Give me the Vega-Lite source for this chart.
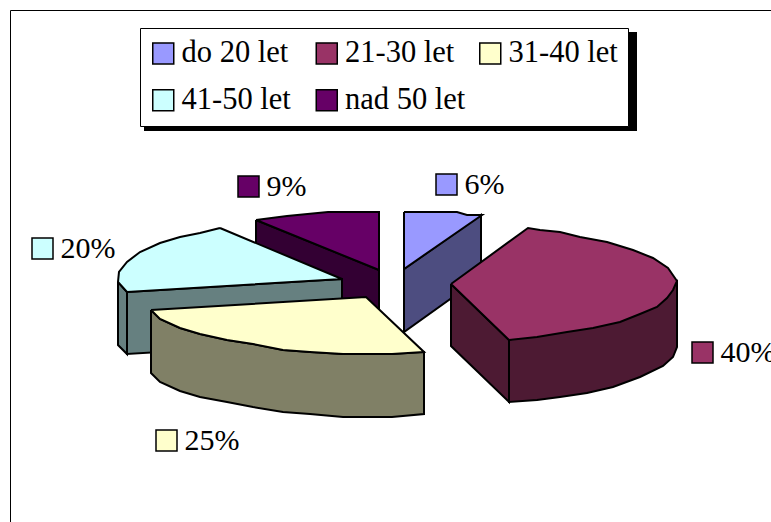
{
  "$schema": "https://vega.github.io/schema/vega-lite/v6.json",
  "width": 771,
  "height": 522,
  "padding": 0,
  "autosize": "none",
  "background": "white",
  "view": {"stroke": null},
  "datasets": {
    "frame": [
      {"x": 10.5, "y": 10.5, "x2": 771, "y2": 10.5},
      {"x": 10.5, "y": 10.5, "x2": 10.5, "y2": 522}
    ],
    "shadow": [{"x": 144, "y": 32, "x2": 637, "y2": 131}],
    "faces": [
      {"part": "a1", "face": "nad 50 let side", "i": 0, "x": 256, "y": 220},
      {"part": "a1", "face": "nad 50 let side", "i": 1, "x": 379, "y": 270},
      {"part": "a1", "face": "nad 50 let side", "i": 2, "x": 379, "y": 332},
      {"part": "a1", "face": "nad 50 let side", "i": 3, "x": 256, "y": 282},
      {"part": "a1", "face": "nad 50 let side", "i": 4, "x": 256, "y": 220},
      {"part": "a2", "face": "nad 50 let", "i": 0, "x": 256, "y": 220},
      {"part": "a2", "face": "nad 50 let", "i": 1, "x": 287, "y": 216},
      {"part": "a2", "face": "nad 50 let", "i": 2, "x": 328, "y": 212},
      {"part": "a2", "face": "nad 50 let", "i": 3, "x": 379, "y": 212},
      {"part": "a2", "face": "nad 50 let", "i": 4, "x": 379, "y": 270},
      {"part": "a2", "face": "nad 50 let", "i": 5, "x": 256, "y": 220},

      {"part": "b1", "face": "do 20 let side", "i": 0, "x": 404, "y": 269},
      {"part": "b1", "face": "do 20 let side", "i": 1, "x": 481, "y": 215},
      {"part": "b1", "face": "do 20 let side", "i": 2, "x": 481, "y": 277},
      {"part": "b1", "face": "do 20 let side", "i": 3, "x": 404, "y": 332},
      {"part": "b1", "face": "do 20 let side", "i": 4, "x": 404, "y": 269},
      {"part": "b2", "face": "do 20 let", "i": 0, "x": 404, "y": 212},
      {"part": "b2", "face": "do 20 let", "i": 1, "x": 457, "y": 212},
      {"part": "b2", "face": "do 20 let", "i": 2, "x": 467, "y": 215},
      {"part": "b2", "face": "do 20 let", "i": 3, "x": 482, "y": 215},
      {"part": "b2", "face": "do 20 let", "i": 4, "x": 404, "y": 269},
      {"part": "b2", "face": "do 20 let", "i": 5, "x": 404, "y": 212},

      {"part": "c1", "face": "21-30 let side", "i": 0, "x": 451, "y": 284},
      {"part": "c1", "face": "21-30 let side", "i": 1, "x": 509, "y": 340},
      {"part": "c1", "face": "21-30 let side", "i": 2, "x": 509, "y": 402},
      {"part": "c1", "face": "21-30 let side", "i": 3, "x": 451, "y": 346},
      {"part": "c1", "face": "21-30 let side", "i": 4, "x": 451, "y": 284},
      {"part": "c2", "face": "21-30 let side", "i": 0, "x": 509, "y": 340},
      {"part": "c2", "face": "21-30 let side", "i": 1, "x": 677, "y": 281},
      {"part": "c2", "face": "21-30 let side", "i": 2, "x": 677, "y": 347},
      {"part": "c2", "face": "21-30 let side", "i": 3, "x": 673, "y": 357},
      {"part": "c2", "face": "21-30 let side", "i": 4, "x": 663, "y": 366},
      {"part": "c2", "face": "21-30 let side", "i": 5, "x": 640, "y": 377},
      {"part": "c2", "face": "21-30 let side", "i": 6, "x": 613, "y": 387},
      {"part": "c2", "face": "21-30 let side", "i": 7, "x": 587, "y": 393},
      {"part": "c2", "face": "21-30 let side", "i": 8, "x": 560, "y": 397},
      {"part": "c2", "face": "21-30 let side", "i": 9, "x": 537, "y": 400},
      {"part": "c2", "face": "21-30 let side", "i": 10, "x": 509, "y": 402},
      {"part": "c2", "face": "21-30 let side", "i": 11, "x": 509, "y": 340},
      {"part": "c3", "face": "21-30 let", "i": 0, "x": 451, "y": 284},
      {"part": "c3", "face": "21-30 let", "i": 1, "x": 528, "y": 228},
      {"part": "c3", "face": "21-30 let", "i": 2, "x": 540, "y": 230},
      {"part": "c3", "face": "21-30 let", "i": 3, "x": 560, "y": 232},
      {"part": "c3", "face": "21-30 let", "i": 4, "x": 580, "y": 237},
      {"part": "c3", "face": "21-30 let", "i": 5, "x": 607, "y": 242},
      {"part": "c3", "face": "21-30 let", "i": 6, "x": 633, "y": 250},
      {"part": "c3", "face": "21-30 let", "i": 7, "x": 653, "y": 258},
      {"part": "c3", "face": "21-30 let", "i": 8, "x": 668, "y": 268},
      {"part": "c3", "face": "21-30 let", "i": 9, "x": 677, "y": 281},
      {"part": "c3", "face": "21-30 let", "i": 10, "x": 673, "y": 290},
      {"part": "c3", "face": "21-30 let", "i": 11, "x": 667, "y": 298},
      {"part": "c3", "face": "21-30 let", "i": 12, "x": 657, "y": 307},
      {"part": "c3", "face": "21-30 let", "i": 13, "x": 640, "y": 314},
      {"part": "c3", "face": "21-30 let", "i": 14, "x": 620, "y": 322},
      {"part": "c3", "face": "21-30 let", "i": 15, "x": 593, "y": 328},
      {"part": "c3", "face": "21-30 let", "i": 16, "x": 567, "y": 332},
      {"part": "c3", "face": "21-30 let", "i": 17, "x": 537, "y": 337},
      {"part": "c3", "face": "21-30 let", "i": 18, "x": 509, "y": 340},
      {"part": "c3", "face": "21-30 let", "i": 19, "x": 451, "y": 284},

      {"part": "d1", "face": "41-50 let side", "i": 0, "x": 118, "y": 282},
      {"part": "d1", "face": "41-50 let side", "i": 1, "x": 127, "y": 292},
      {"part": "d1", "face": "41-50 let side", "i": 2, "x": 127, "y": 354},
      {"part": "d1", "face": "41-50 let side", "i": 3, "x": 118, "y": 345},
      {"part": "d1", "face": "41-50 let side", "i": 4, "x": 118, "y": 282},
      {"part": "d2", "face": "41-50 let side", "i": 0, "x": 127, "y": 292},
      {"part": "d2", "face": "41-50 let side", "i": 1, "x": 342, "y": 279},
      {"part": "d2", "face": "41-50 let side", "i": 2, "x": 342, "y": 341},
      {"part": "d2", "face": "41-50 let side", "i": 3, "x": 127, "y": 354},
      {"part": "d2", "face": "41-50 let side", "i": 4, "x": 127, "y": 292},
      {"part": "d3", "face": "41-50 let", "i": 0, "x": 220, "y": 228},
      {"part": "d3", "face": "41-50 let", "i": 1, "x": 200, "y": 233},
      {"part": "d3", "face": "41-50 let", "i": 2, "x": 180, "y": 237},
      {"part": "d3", "face": "41-50 let", "i": 3, "x": 160, "y": 243},
      {"part": "d3", "face": "41-50 let", "i": 4, "x": 140, "y": 252},
      {"part": "d3", "face": "41-50 let", "i": 5, "x": 127, "y": 262},
      {"part": "d3", "face": "41-50 let", "i": 6, "x": 119, "y": 272},
      {"part": "d3", "face": "41-50 let", "i": 7, "x": 118, "y": 282},
      {"part": "d3", "face": "41-50 let", "i": 8, "x": 127, "y": 292},
      {"part": "d3", "face": "41-50 let", "i": 9, "x": 342, "y": 279},
      {"part": "d3", "face": "41-50 let", "i": 10, "x": 220, "y": 228},

      {"part": "e1", "face": "31-40 let side", "i": 0, "x": 151, "y": 310},
      {"part": "e1", "face": "31-40 let side", "i": 1, "x": 160, "y": 319},
      {"part": "e1", "face": "31-40 let side", "i": 2, "x": 180, "y": 328},
      {"part": "e1", "face": "31-40 let side", "i": 3, "x": 200, "y": 334},
      {"part": "e1", "face": "31-40 let side", "i": 4, "x": 227, "y": 340},
      {"part": "e1", "face": "31-40 let side", "i": 5, "x": 253, "y": 344},
      {"part": "e1", "face": "31-40 let side", "i": 6, "x": 283, "y": 350},
      {"part": "e1", "face": "31-40 let side", "i": 7, "x": 310, "y": 352},
      {"part": "e1", "face": "31-40 let side", "i": 8, "x": 343, "y": 354},
      {"part": "e1", "face": "31-40 let side", "i": 9, "x": 392, "y": 354},
      {"part": "e1", "face": "31-40 let side", "i": 10, "x": 424, "y": 352},
      {"part": "e1", "face": "31-40 let side", "i": 11, "x": 424, "y": 414},
      {"part": "e1", "face": "31-40 let side", "i": 12, "x": 392, "y": 417},
      {"part": "e1", "face": "31-40 let side", "i": 13, "x": 343, "y": 417},
      {"part": "e1", "face": "31-40 let side", "i": 14, "x": 310, "y": 414},
      {"part": "e1", "face": "31-40 let side", "i": 15, "x": 283, "y": 412},
      {"part": "e1", "face": "31-40 let side", "i": 16, "x": 253, "y": 407},
      {"part": "e1", "face": "31-40 let side", "i": 17, "x": 227, "y": 402},
      {"part": "e1", "face": "31-40 let side", "i": 18, "x": 200, "y": 397},
      {"part": "e1", "face": "31-40 let side", "i": 19, "x": 180, "y": 391},
      {"part": "e1", "face": "31-40 let side", "i": 20, "x": 160, "y": 382},
      {"part": "e1", "face": "31-40 let side", "i": 21, "x": 151, "y": 373},
      {"part": "e1", "face": "31-40 let side", "i": 22, "x": 151, "y": 310},
      {"part": "e2", "face": "31-40 let", "i": 0, "x": 151, "y": 310},
      {"part": "e2", "face": "31-40 let", "i": 1, "x": 366, "y": 297},
      {"part": "e2", "face": "31-40 let", "i": 2, "x": 424, "y": 352},
      {"part": "e2", "face": "31-40 let", "i": 3, "x": 392, "y": 354},
      {"part": "e2", "face": "31-40 let", "i": 4, "x": 343, "y": 354},
      {"part": "e2", "face": "31-40 let", "i": 5, "x": 310, "y": 352},
      {"part": "e2", "face": "31-40 let", "i": 6, "x": 283, "y": 350},
      {"part": "e2", "face": "31-40 let", "i": 7, "x": 253, "y": 344},
      {"part": "e2", "face": "31-40 let", "i": 8, "x": 227, "y": 340},
      {"part": "e2", "face": "31-40 let", "i": 9, "x": 200, "y": 334},
      {"part": "e2", "face": "31-40 let", "i": 10, "x": 180, "y": 328},
      {"part": "e2", "face": "31-40 let", "i": 11, "x": 160, "y": 319},
      {"part": "e2", "face": "31-40 let", "i": 12, "x": 151, "y": 310}
    ],
    "shares": [
      {"face": "do 20 let", "share": 6, "label": "6%", "x": 446.5, "y": 184.5},
      {"face": "21-30 let", "share": 40, "label": "40%", "x": 702.5, "y": 352.5},
      {"face": "31-40 let", "share": 25, "label": "25%", "x": 166.5, "y": 440.5},
      {"face": "41-50 let", "share": 20, "label": "20%", "x": 42.5, "y": 248.5},
      {"face": "nad 50 let", "share": 9, "label": "9%", "x": 248.5, "y": 186.5}
    ]
  },
  "layer": [
    {
      "data": {"name": "frame"},
      "mark": {"type": "rule", "stroke": "black", "strokeWidth": 1},
      "encoding": {
        "x": {"field": "x", "type": "quantitative", "scale": {"domain": [0, 771]}, "axis": null},
        "y": {"field": "y", "type": "quantitative", "scale": {"domain": [522, 0]}, "axis": null},
        "x2": {"field": "x2"},
        "y2": {"field": "y2"}
      }
    },
    {
      "data": {"name": "shadow"},
      "mark": {"type": "rect", "fill": "black"},
      "encoding": {
        "x": {"field": "x", "type": "quantitative", "scale": {"domain": [0, 771]}, "axis": null},
        "y": {"field": "y", "type": "quantitative", "scale": {"domain": [522, 0]}, "axis": null},
        "x2": {"field": "x2"},
        "y2": {"field": "y2"}
      }
    },
    {
      "data": {"name": "faces"},
      "mark": {"type": "line", "filled": true, "stroke": "black", "strokeWidth": 2, "strokeJoin": "miter", "clip": true},
      "encoding": {
        "x": {"field": "x", "type": "quantitative", "scale": {"domain": [0, 771]}, "axis": null},
        "y": {"field": "y", "type": "quantitative", "scale": {"domain": [522, 0]}, "axis": null},
        "order": {"field": "i", "type": "quantitative"},
        "detail": {"field": "part"},
        "fill": {
          "field": "face",
          "type": "nominal",
          "scale": {
            "domain": ["do 20 let", "21-30 let", "31-40 let", "41-50 let", "nad 50 let", "do 20 let side", "21-30 let side", "31-40 let side", "41-50 let side", "nad 50 let side"],
            "range": ["#9999FF", "#993366", "#FFFFCC", "#CCFFFF", "#660066", "#4D4D80", "#4D1A33", "#808066", "#668080", "#330033"]
          }
        }
      }
    },
    {
      "data": {"name": "shares"},
      "mark": {"type": "point", "shape": "square", "filled": true, "size": 441, "stroke": "black", "strokeWidth": 1.5, "opacity": 1},
      "encoding": {
        "x": {"field": "x", "type": "quantitative", "scale": {"domain": [0, 771]}, "axis": null},
        "y": {"field": "y", "type": "quantitative", "scale": {"domain": [522, 0]}, "axis": null},
        "fill": {
          "field": "face",
          "type": "nominal",
          "scale": {
            "domain": ["do 20 let", "21-30 let", "31-40 let", "41-50 let", "nad 50 let", "do 20 let side", "21-30 let side", "31-40 let side", "41-50 let side", "nad 50 let side"],
            "range": ["#9999FF", "#993366", "#FFFFCC", "#CCFFFF", "#660066", "#4D4D80", "#4D1A33", "#808066", "#668080", "#330033"]
          },
          "legend": {
            "title": null,
            "orient": "none",
            "legendX": 140,
            "legendY": 28,
            "direction": "horizontal",
            "columns": 3,
            "gridAlign": "all",
            "values": ["do 20 let", "21-30 let", "31-40 let", "41-50 let", "nad 50 let"],
            "fillColor": "white",
            "strokeColor": "black",
            "padding": 10,
            "symbolType": "square",
            "symbolSize": 441,
            "symbolOffset": -2,
            "symbolStrokeColor": "black",
            "symbolStrokeWidth": 1.5,
            "symbolOpacity": 1,
            "labelFont": "Liberation Serif",
            "labelFontSize": 30.5,
            "labelColor": "black",
            "labelOffset": 3,
            "labelLimit": 200,
            "columnPadding": 10.5,
            "rowPadding": 16
          }
        }
      }
    },
    {
      "data": {"name": "shares"},
      "mark": {"type": "text", "font": "Liberation Serif", "fontSize": 30, "align": "left", "baseline": "middle", "dx": 18, "dy": 0, "color": "black", "clip": false},
      "encoding": {
        "x": {"field": "x", "type": "quantitative", "scale": {"domain": [0, 771]}, "axis": null},
        "y": {"field": "y", "type": "quantitative", "scale": {"domain": [522, 0]}, "axis": null},
        "text": {"field": "label"}
      }
    }
  ]
}
